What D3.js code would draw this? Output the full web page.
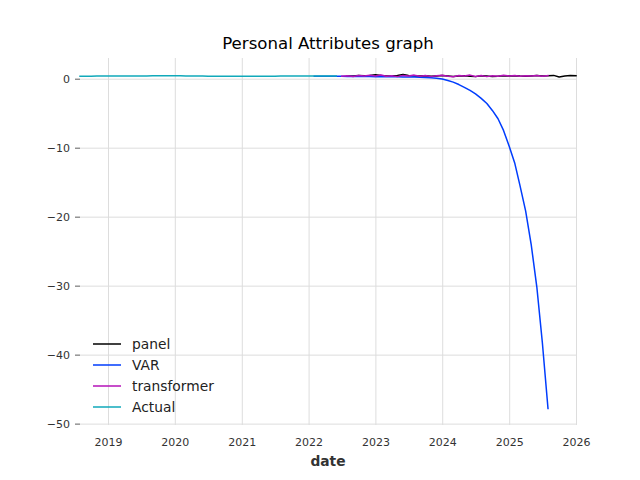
<!DOCTYPE html>
<html><head><meta charset="utf-8">
<script src="https://cdn.jsdelivr.net/npm/d3@7"></script>
<style>body{margin:0;background:#fff}svg{display:block}</style>
</head><body>
<svg id="c" width="640" height="480"></svg>
<script>
const seriesNames = ["panel", "VAR", "transformer", "Actual"];
const seriesColors = ["#000000", "#003DFD", "#b512b8", "#11a9ba"];
const seriesStart = ["2022-08", "2022-02", "2022-07", "2018-08"];
const panelValues = [0.40,0.38,0.45,0.42,0.48,
  0.58,0.45,0.40,0.42,0.48,0.60,0.45,0.40,0.38,0.42,0.36,0.40,
  0.45,0.38,0.32,0.40,0.44,0.35,0.30,0.42,0.38,0.30,0.36,0.42,
  0.40,0.44,0.38,0.36,0.40,0.45,0.38,0.42,0.48,0.25,0.38,0.45,
  0.42];
const varValues = [0.36,0.36,0.35,0.35,0.34,0.34,0.33,0.33,0.32,0.32,0.31,
  0.30,0.30,0.29,0.28,0.27,0.26,0.25,0.23,0.21,0.18,0.14,0.08,
  -0.05,-0.25,-0.5,-0.85,-1.25,-1.7,-2.2,-2.85,-3.6,-4.6,-5.8,-7.5,
  -9.8,-12.3,-15.5,-19.2,-24.0,-30.2,-38.2,-47.8];
const transformerValues = [0.35,0.42,0.33,0.45,0.38,0.50,
  0.40,0.55,0.36,0.44,0.30,0.48,0.38,0.52,0.34,0.46,0.30,0.42,
  0.50,0.36,0.28,0.45,0.38,0.52,0.33,0.47,0.30,0.44,0.37,0.50,
  0.40,0.46,0.35,0.42,0.38,0.48,0.36,0.44];
const actualValues = [0.36,0.37,0.37,0.38,0.38,
  0.38,0.39,0.39,0.39,0.40,0.40,0.40,0.40,0.41,0.41,0.41,0.41,
  0.41,0.41,0.40,0.40,0.39,0.38,0.36,0.35,0.34,0.34,0.34,0.34,
  0.34,0.35,0.35,0.36,0.36,0.37,0.37,0.38,0.38,0.38,0.39,0.39,
  0.39,0.39,0.40,0.40,0.40,0.40];
const yTicks = [-50,-40,-30,-20,-10,0];
const xTickYears = [2019,2020,2021,2022,2023,2024,2025,2026];
const xDomain = ["2018-08-01","2026-01-01"];
const yDomain = [-50.2, 3.0];

const allValues = [panelValues, varValues, transformerValues, actualValues];
const parseM = d3.timeParse("%Y-%m");
function toPoints(start, vals){
  const s = parseM(start);
  return vals.map((v,i)=>({date:d3.timeMonth.offset(s,i), value:v}));
}
const series = seriesNames.map((n,i)=>({name:n,color:seriesColors[i],points:toPoints(seriesStart[i],allValues[i])}));

const svg = d3.select("#c");
const m = {left:80, right:64, top:58, bottom:55};
const W = 640, H = 480;
const x = d3.scaleTime().domain(xDomain.map(d=>new Date(d+"T00:00:00"))).range([m.left, W-m.right]);
const y = d3.scaleLinear().domain(yDomain).range([H-m.bottom, m.top]);
const font = "DejaVu Sans, sans-serif";

// grid
const gx = svg.append("g").attr("transform",`translate(0,${H-m.bottom})`)
  .call(d3.axisBottom(x).tickValues(xTickYears.map(yr=>new Date(yr,0,1))).tickFormat(d3.timeFormat("%Y"))
    .tickSize(-(H-m.top-m.bottom)).tickPadding(13));
gx.select(".domain").remove();
gx.selectAll(".tick line").attr("stroke","#dddddd").attr("stroke-width",1);
gx.selectAll(".tick text").attr("font-family",font).attr("font-size",11).attr("fill","#333");

const gy = svg.append("g").attr("transform",`translate(${m.left},0)`)
  .call(d3.axisLeft(y).tickValues(yTicks).tickFormat(d=>d3.format("d")(d).replace("-","\u2212"))
    .tickSize(-(W-m.left-m.right)).tickPadding(10));
gy.select(".domain").remove();
gy.selectAll(".tick line").attr("stroke","#dddddd").attr("stroke-width",1);
gy.selectAll(".tick text").attr("font-family",font).attr("font-size",11).attr("fill","#333");
gy.selectAll(".tick").append("line").attr("x1",-5).attr("x2",0).attr("stroke","#333").attr("stroke-width",0.8);

// lines
const line = d3.line().x(d=>x(d.date)).y(d=>y(d.value));
svg.append("g").selectAll("path").data(series).join("path")
  .attr("d",d=>line(d.points)).attr("fill","none").attr("stroke",d=>d.color)
  .attr("stroke-width",1.5).attr("stroke-linejoin","round").attr("stroke-linecap","square");

// title & labels
svg.append("text").attr("x",(m.left+W-m.right)/2).attr("y",49).attr("text-anchor","middle")
  .attr("font-family",font).attr("font-size",16.6).attr("fill","#000").text("Personal Attributes graph");
svg.append("text").attr("x",(m.left+W-m.right)/2).attr("y",466).attr("text-anchor","middle")
  .attr("font-family",font).attr("font-size",13.8).attr("font-weight","bold").attr("fill","#333").text("date");

// legend
const lg = svg.append("g");
series.forEach((s,i)=>{
  const yy = 344 + i*21;
  lg.append("line").attr("x1",93).attr("x2",121).attr("y1",yy).attr("y2",yy).attr("stroke",s.color).attr("stroke-width",1.5);
  lg.append("text").attr("x",132).attr("y",yy+5).attr("font-family",font).attr("font-size",13.8).attr("fill","#222").text(s.name);
});
</script>
</body></html>
